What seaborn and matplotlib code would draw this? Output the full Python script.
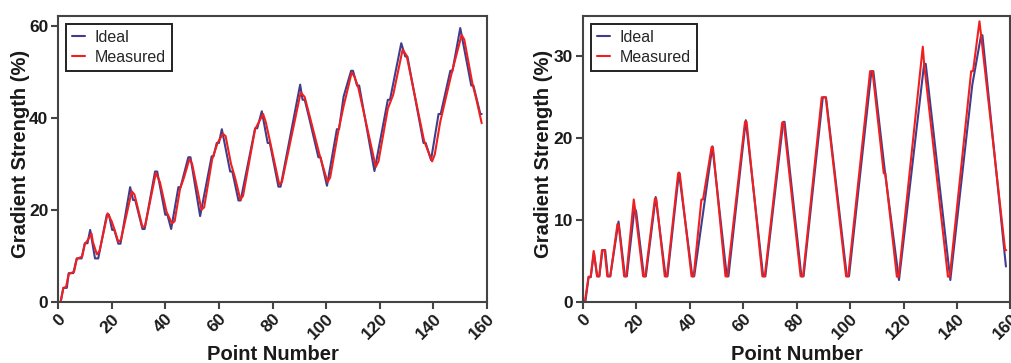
import pandas as pd
import matplotlib
matplotlib.use('Agg')
import matplotlib.pyplot as plt
import seaborn as sns

# Left panel - vertices (point number, strength %)
left_ideal_x = [1, 2, 3.3, 4, 5.7, 7, 8.8, 10, 11, 12, 13.8, 15, 18.2, 19, 20.2, 21, 22.5, 23.3,
                26.9, 28, 28.8, 31.5, 32.3, 36.2, 37, 40, 40.8, 42.2, 44.9, 45.7, 48.6, 49.4, 53,
                57.3, 58, 59.2, 60, 61.1, 64.2, 65, 67.3, 68.1, 73.5, 74.3, 76, 78.2, 79, 82.2, 83,
                90.3, 91.2, 92, 93.4, 97.1, 97.9, 100.3, 104, 104.8, 106.5, 109.3, 110, 111.5, 112.3,
                118, 123, 123.8, 128, 129.5, 130.3, 136.3, 137.1, 139.1, 141.9, 142.7, 146.3, 147.1,
                150, 154.1, 154.9, 157.5, 158]
left_ideal_y = [0, 3, 3, 6.2, 6.2, 9.4, 9.4, 12.7, 12.7, 15.6, 9.4, 9.4, 18.9, 18.9, 15.6, 15.6, 12.6, 12.6,
                24.9, 22.1, 22.1, 15.8, 15.8, 28.3, 28.3, 18.9, 18.9, 15.8, 24.9, 24.9, 31.4, 31.4, 18.6,
                31.6, 31.6, 34.5, 34.5, 37.5, 28.3, 28.3, 22, 22, 37.7, 37.7, 41.4, 34.5, 34.5, 25, 25,
                47.2, 43.9, 43.9, 40.6, 31.4, 31.4, 25.2, 37.5, 37.5, 44.6, 50.2, 50.2, 47, 47,
                28.4, 43.9, 43.9, 56.2, 53.3, 53.3, 34.5, 34.5, 30.8, 40.8, 40.8, 50.2, 50.2,
                59.5, 47, 47, 40.8, 40.8]

left_meas_x = [1, 2, 3, 4, 6, 7, 9, 10, 11, 12.5, 13, 14.5, 15.5, 18.5, 20, 21, 22.5, 23.5, 27.5, 28.5,
               29.5, 31.5, 32.5, 36.5, 38, 40.5, 42.5, 43.5, 45.5, 47, 49, 50, 53.5, 54.5, 57.5, 59.5,
               61.5, 62.5, 64.5, 66, 68, 69, 73.5, 76.5, 77.5, 79, 82.5, 83.5, 90.5, 92, 94, 97.5,
               100.5, 101.5, 104.5, 106.5, 109.5, 110.5, 112, 118.5, 119.5, 123, 125, 128.5, 130,
               136.5, 139.5, 140.5, 142.5, 146.5, 150.5, 151.5, 154.5, 156, 158]
left_meas_y = [0, 3, 3.2, 6, 6.5, 9.3, 9.8, 12.5, 13.3, 14.8, 13, 10.3, 11, 19.2, 17.5, 15.8, 13, 13.5, 24, 23.3,
               21, 16.2, 16.5, 28, 26, 19.5, 17, 17.5, 24.5, 27, 31, 30, 20, 20.5, 31, 34.5,
               36.5, 36, 30, 27, 22.2, 23, 37.5, 40.8, 39, 35, 25.5, 26, 45.5, 44.5, 40, 32,
               26, 27, 37, 42.5, 49.8, 49, 46.5, 29.3, 30.5, 42, 45, 54.8, 53.5,
               35, 30.5, 32, 39, 49, 58, 57, 47.5, 44, 38.8]

# Right panel
right_ideal_x = [1, 2.2, 3, 4.2, 5.4, 6.2, 7.4, 8.4, 9.4, 10.3, 13.4, 15.8, 16.5, 19.4, 20, 22.9, 23.6,
                 27.3, 31, 31.7, 36, 41, 41.7, 48.5, 53.9, 54.5, 61, 67.5, 68.3, 75, 75.5, 81.8, 82.6,
                 89.8, 91, 98.8, 99.6, 108, 108.7, 113, 118.3, 127.7, 128.3, 137.5, 145.7, 149, 149.5,
                 158.3]
right_ideal_y = [0, 3, 3, 6, 3.1, 3.1, 6.3, 6.3, 3.1, 3.1, 9.8, 3.1, 3.1, 11.5, 11, 3.1, 3.1,
                 12.8, 3.1, 3.1, 15.8, 3.1, 3.1, 19, 3.1, 3.1, 22.2, 3.1, 3.1, 22, 22, 3.1, 3.1,
                 25, 25, 3.1, 3.1, 28.2, 28.2, 16, 2.65, 29.1, 29.1, 2.65, 26.5, 32.6, 32.6,
                 4.3]

right_meas_x = [0.8, 2.2, 3, 4.1, 5.4, 6.2, 7.2, 8.2, 9.2, 10.3, 13, 13.5, 15.5, 16.3, 19.1, 19.7, 22.6,
                23.4, 27, 27.5, 30.7, 31.5, 35.7, 36.3, 40.7, 41.5, 44.4, 45, 48.2, 48.7, 53.4, 54.1,
                60.7, 61.3, 67.2, 68.1, 74.6, 75.2, 81.5, 82.4, 89.4, 90.9, 98.5, 99.3, 107.5, 108.4,
                112.6, 113.2, 117.5, 118.2, 127.2, 127.7, 136.6, 137.3, 145.3, 146, 148.4, 149, 158,
                158.4]
right_meas_y = [0, 3.06, 3.06, 6.2, 3.1, 3.1, 6.3, 6.3, 3.1, 3.1, 9.5, 9.3, 3.1, 3.1, 12.5, 11, 3.1,
                3.1, 12.6, 12.6, 3.1, 3.1, 15.7, 15.7, 3.1, 3.1, 12.5, 12.5, 18.9, 18.9, 3.1, 3.1,
                22, 22, 3.1, 3.1, 21.9, 21.9, 3.1, 3.1, 25, 25, 3.1, 3.1, 28.2, 28.2,
                15.7, 15.7, 3.06, 3.06, 31.2, 29.1, 3.06, 3.06, 28.2, 28.2, 34.3, 32.6, 6.3,
                6.3]

series_names = ['Ideal', 'Measured']
series_colors = ['#403e8c', '#f02020']


def make_df(ix, iy, mx, my):
    a = pd.DataFrame({'Point': ix, 'Strength': iy, 'Series': 'Ideal'})
    b = pd.DataFrame({'Point': mx, 'Strength': my, 'Series': 'Measured'})
    return pd.concat([a, b], ignore_index=True)


sns.set_style('ticks')
plt.rcParams['font.family'] = ['Liberation Sans', 'DejaVu Sans']

fig = plt.figure(figsize=(10.12, 3.63), dpi=100)
ax1 = fig.add_axes([0.0573, 0.169, 0.424, 0.788])
ax2 = fig.add_axes([0.5758, 0.169, 0.4227, 0.788])

panels = [
    (ax1, make_df(left_ideal_x, left_ideal_y, left_meas_x, left_meas_y), 62.2, [0, 20, 40, 60], -0.066),
    (ax2, make_df(right_ideal_x, right_ideal_y, right_meas_x, right_meas_y), 35, [0, 10, 20, 30], -0.07),
]

for ax, df, ymax, yticks, ylab_x in panels:
    sns.lineplot(data=df, x='Point', y='Strength', hue='Series', hue_order=series_names,
                 palette=series_colors, estimator=None, sort=False, linewidth=1.5, ax=ax)
    ax.set_xlim(0, 160)
    ax.set_ylim(0, ymax)
    ax.set_xticks(range(0, 161, 20))
    ax.set_yticks(yticks)
    for s in ax.spines.values():
        s.set_visible(True)
        s.set_color('#444444')
        s.set_linewidth(1.5)
    ax.tick_params(axis='both', length=5, width=1.5, color='#444444', labelsize=12.5,
                   labelcolor='#1a1a1a', pad=2)
    for lab in ax.get_xticklabels():
        lab.set_rotation(45)
        lab.set_ha('right')
        lab.set_rotation_mode('anchor')
        lab.set_fontweight('bold')
    for lab in ax.get_yticklabels():
        lab.set_fontweight('bold')
    ax.set_xlabel('Point Number', fontsize=14.5, fontweight='bold', color='#1a1a1a')
    ax.set_ylabel('Gradient Strength (%)', fontsize=14.5, fontweight='bold', color='#1a1a1a')
    ax.xaxis.set_label_coords(0.5, -0.15)
    ax.yaxis.set_label_coords(ylab_x, 0.516)
    leg = ax.legend(loc='upper left', title=None, fontsize=11.5, frameon=True, fancybox=False,
                    handlelength=0.8, borderaxespad=0.5, handletextpad=0.6, labelspacing=0.3,
                    borderpad=0.4)
    leg.get_frame().set_edgecolor('#222222')
    leg.get_frame().set_linewidth(1.4)
    leg.get_frame().set_alpha(1)

fig.savefig('out.png', dpi=100)
